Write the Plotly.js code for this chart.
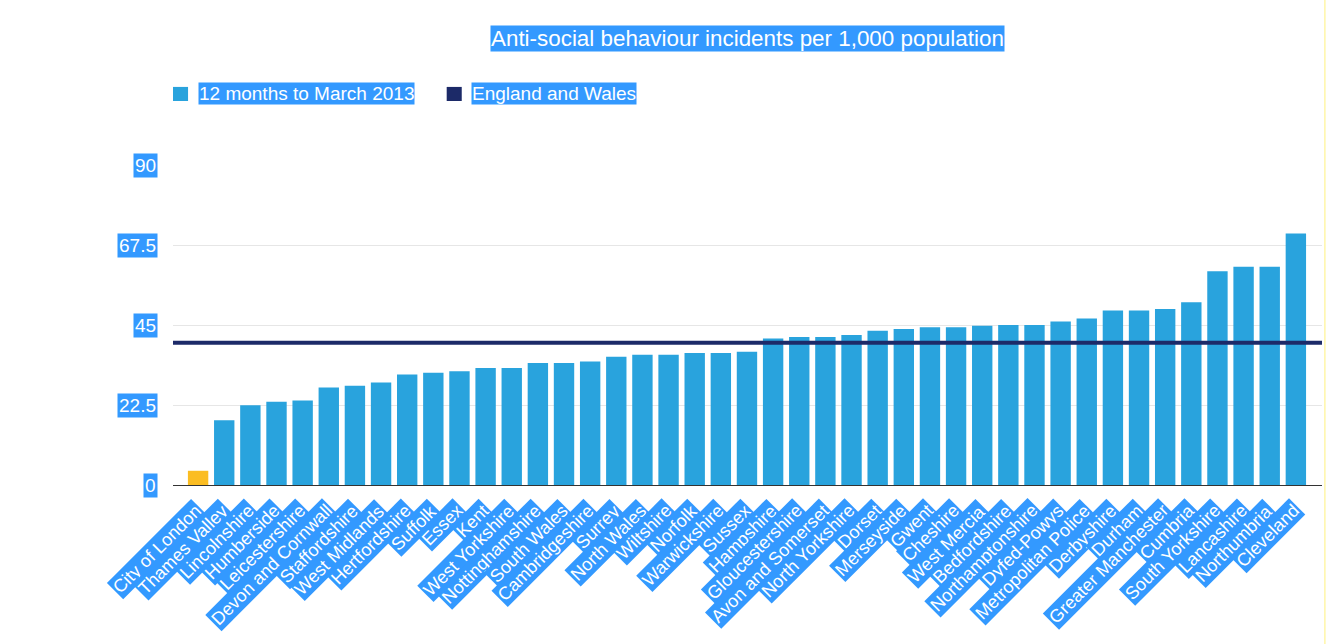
<!DOCTYPE html>
<html>
<head>
<meta charset="utf-8">
<script src="https://cdn.plot.ly/plotly-3.0.1.min.js"></script>
<style>
  html, body { margin: 0; padding: 0; background: #ffffff; }
  #chart { width: 1330px; height: 644px; }
</style>
</head>
<body>
<div id="chart"></div>
<script>
// Police force areas, ordered by rate
const forces = [
  "City of London", "Thames Valley", "Lincolnshire", "Humberside", "Leicestershire",
  "Devon and Cornwall", "Staffordshire", "West Midlands", "Hertfordshire", "Suffolk",
  "Essex", "Kent", "West Yorkshire", "Nottinghamshire", "South Wales",
  "Cambridgeshire", "Surrey", "North Wales", "Wiltshire", "Norfolk",
  "Warwickshire", "Sussex", "Hampshire", "Gloucestershire", "Avon and Somerset",
  "North Yorkshire", "Dorset", "Merseyside", "Gwent", "Cheshire",
  "West Mercia", "Bedfordshire", "Northamptonshire", "Dyfed-Powys", "Metropolitan Police",
  "Derbyshire", "Durham", "Greater Manchester", "Cumbria", "South Yorkshire",
  "Lancashire", "Northumbria", "Cleveland"
];

// Incidents per 1,000 population, 12 months to March 2013
const rates = [
  4.0, 18.2, 22.4, 23.4, 23.8,
  27.4, 27.9, 28.8, 31.1, 31.6,
  32.0, 32.9, 32.9, 34.3, 34.3,
  34.7, 36.1, 36.6, 36.6, 37.1,
  37.1, 37.5, 41.2, 41.6, 41.6,
  42.2, 43.4, 43.9, 44.4, 44.4,
  44.8, 45.0, 45.0, 46.0, 46.8,
  49.1, 49.1, 49.5, 51.4, 60.1,
  61.4, 61.4, 70.7
];

// National average
const englandAndWales = 40;

const yTickValues = [0, 22.5, 45, 67.5, 90];
const yTickLabels = ["0", "22.5", "45", "67.5", "90"];

const seriesNames = ["12 months to March 2013", "England and Wales"];
const chartTitle = "Anti-social behaviour incidents per 1,000 population";
const highlightedForce = "City of London";

// Styling
const BAR_COLOR = "#29a3dd";
const HIGHLIGHT_BAR = "#fbbd22";
const LINE_COLOR = "#1c2a68";
const LABEL_BG = "#3399ff";
const FONT = "Liberation Sans, Arial, sans-serif";

const barColors = forces.map(f => f === highlightedForce ? HIGHLIGHT_BAR : BAR_COLOR);

const bars = {
  type: "bar",
  x: forces,
  y: rates,
  name: seriesNames[0],
  marker: { color: barColors },
  hoverinfo: "x+y",
  showlegend: false
};

const labelFont = { family: FONT, size: 18, color: "#ffffff" };

// Category labels, rotated, with a highlight background
const xLabels = forces.map(f => ({
  x: f, xref: "x",
  y: 0, yref: "y",
  text: f,
  textangle: -45,
  xanchor: "right", yanchor: "top",
  xshift: 10, yshift: -13,
  showarrow: false,
  bgcolor: LABEL_BG,
  borderpad: 1,
  font: labelFont
}));

// Value-axis labels
const yLabels = yTickValues.map((v, i) => ({
  x: 0, xref: "paper",
  y: v, yref: "y",
  text: yTickLabels[i],
  xanchor: "right", yanchor: "middle",
  xshift: -15,
  showarrow: false,
  bgcolor: LABEL_BG,
  borderpad: 1,
  font: { family: FONT, size: 19, color: "#ffffff" }
}));

const titleAnn = {
  x: 0.5, xref: "paper",
  y: 1.394, yref: "paper",
  text: chartTitle,
  xanchor: "center", yanchor: "middle",
  showarrow: false,
  bgcolor: LABEL_BG,
  borderpad: 0,
  font: { family: FONT, size: 22.4, color: "#ffffff" }
};

// Legend entries
const legendAnns = [
  { x: 0.0215, text: seriesNames[0] },
  { x: 0.2594, text: seriesNames[1] }
].map(e => ({
  x: e.x, xref: "paper",
  y: 1.222, yref: "paper",
  text: e.text,
  xanchor: "left", yanchor: "middle",
  showarrow: false,
  bgcolor: LABEL_BG,
  borderpad: 0,
  font: { family: FONT, size: 19, color: "#ffffff" }
}));

const legendSwatches = [
  { x0: 0.0, x1: 0.0131, color: BAR_COLOR },
  { x0: 0.2382, x1: 0.2513, color: LINE_COLOR }
].map(s => ({
  type: "rect", xref: "paper", yref: "paper",
  x0: s.x0, x1: s.x1, y0: 1.200, y1: 1.244,
  fillcolor: s.color, line: { width: 0 }
}));

const avgLine = {
  type: "line", xref: "paper", yref: "y",
  x0: 0, x1: 1, y0: englandAndWales, y1: englandAndWales,
  line: { color: LINE_COLOR, width: 4 },
  layer: "above"
};

const edgeLine = {
  type: "line", xref: "paper", yref: "paper",
  x0: 1.0025, x1: 1.0025, y0: -0.5, y1: 1.52,
  line: { color: "#fff6a8", width: 1.5 },
  layer: "above"
};

const layout = {
  width: 1330,
  height: 644,
  margin: { l: 173, r: 8, t: 165, b: 159 },
  paper_bgcolor: "#ffffff",
  plot_bgcolor: "#ffffff",
  font: { family: FONT },
  bargap: 0.22,
  showlegend: false,
  xaxis: {
    type: "category",
    range: [-0.96, 43.0],
    showticklabels: false,
    ticks: "",
    showgrid: false,
    showline: true,
    linecolor: "#333333",
    linewidth: 1,
    zeroline: false,
    fixedrange: true
  },
  yaxis: {
    range: [0, 90],
    tickvals: yTickValues,
    showticklabels: false,
    ticks: "",
    showgrid: true,
    gridcolor: "#e6e6e6",
    gridwidth: 1,
    zeroline: false,
    showline: false,
    fixedrange: true
  },
  shapes: [avgLine, ...legendSwatches, edgeLine],
  annotations: [titleAnn, ...legendAnns, ...yLabels, ...xLabels]
};

Plotly.newPlot("chart", [bars], layout, { displayModeBar: false, responsive: false });
</script>
</body>
</html>
